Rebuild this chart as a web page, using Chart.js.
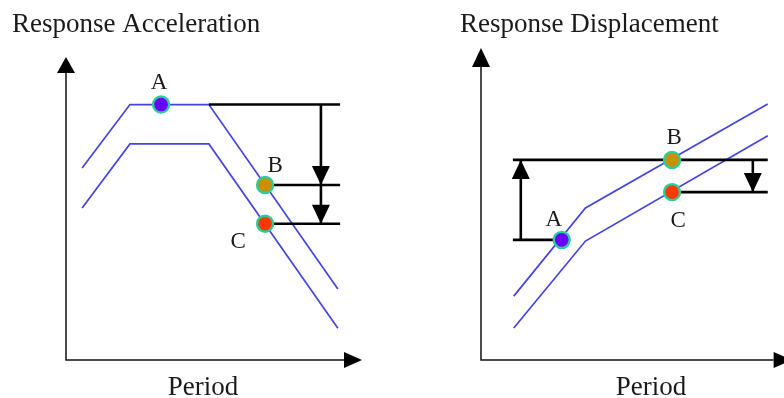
<!DOCTYPE html>
<html>
<head>
<meta charset="utf-8">
<script src="https://cdn.jsdelivr.net/npm/chart.js@4/dist/chart.umd.min.js"></script>
<style>
  html, body { margin: 0; padding: 0; background: #fff; }
  body { width: 784px; height: 398px; position: relative; overflow: hidden; }
  canvas { position: absolute; top: 0; }
  #acc { left: 0; }
  #disp { left: 392px; }
</style>
</head>
<body>
<canvas id="acc" width="392" height="398"></canvas>
<canvas id="disp" width="392" height="398"></canvas>
<script>
// ---------- Data: Response Acceleration (schematic units) ----------
const accPeriod      = [0.58, 2.30, 5.14, 9.78];
const accUpper       = [6.69, 8.90, 8.90, 2.47];
const accLower       = [5.30, 7.53, 7.53, 1.11];
const accPointLabels = ['A', 'B', 'C'];
const accPointPeriod = [3.42, 7.16, 7.16];
const accPointValue  = [8.90, 6.10, 4.75];
const accRefEnd      = 9.86;
const accArrowPeriod = 9.17;

// ---------- Data: Response Displacement (schematic units) ----------
const dispPeriod      = [1.12, 3.57, 9.80];
const dispUpper       = [2.18, 5.19, 8.74];
const dispLower       = [1.09, 4.06, 7.65];
const dispPointLabels = ['A', 'B', 'C'];
const dispPointPeriod = [2.76, 6.53, 6.53];
const dispPointValue  = [4.10, 6.83, 5.73];
const dispRefStart    = 1.09;
const dispRefEnd      = 9.80;
const dispArrowPeriods = [1.36, 9.29];

const SERIF = '"Liberation Serif", "Times New Roman", serif';
const BLUE = '#4444e2';
const TEAL = '#2ecc9a';
const POINT_FILLS = ['#6a00ff', '#c99100', '#ff3a00'];

function xy(xs, ys) { return xs.map((x, i) => ({ x: x, y: ys[i] })); }

function curve(xs, ys) {
  return { data: xy(xs, ys), borderColor: BLUE, borderWidth: 1.7, pointRadius: 0, fill: false, order: 3 };
}
function refLine(pts, isArrow) {
  return { data: pts, borderColor: '#000', borderWidth: 2.6, pointRadius: 0, fill: false, order: 2, arrow: !!isArrow };
}
function markers(xs, ys, labels) {
  return {
    data: xy(xs, ys), showLine: false, order: 0, labelsText: labels,
    pointRadius: 8, pointHoverRadius: 8, pointBorderWidth: 2.4,
    pointBackgroundColor: POINT_FILLS, pointBorderColor: TEAL, isMarkers: true
  };
}

function triangle(ctx, tx, ty, dx, dy, len, width) {
  const n = Math.hypot(dx, dy) || 1;
  const ux = dx / n, uy = dy / n;
  const bx = tx - ux * len, by = ty - uy * len;
  ctx.fillStyle = '#000';
  ctx.beginPath();
  ctx.moveTo(tx, ty);
  ctx.lineTo(bx - uy * width / 2, by + ux * width / 2);
  ctx.lineTo(bx + uy * width / 2, by - ux * width / 2);
  ctx.closePath();
  ctx.fill();
}

const diagramPlugin = {
  id: 'diagram',
  beforeDatasetsDraw(chart, args, o) {
    const { ctx, chartArea: a } = chart;
    ctx.save();
    ctx.strokeStyle = '#111';
    ctx.lineWidth = 1.5;
    ctx.beginPath();
    ctx.moveTo(a.left, a.top);
    ctx.lineTo(a.left, a.bottom);
    ctx.lineTo(a.right, a.bottom);
    ctx.stroke();
    triangle(ctx, a.left, a.top - o.yArrowLen, 0, -1, o.yArrowLen, 18);
    triangle(ctx, a.right + o.xArrowLen, a.bottom, 1, 0, o.xArrowLen, 16);
    ctx.restore();
  },
  afterDatasetsDraw(chart, args, o) {
    const { ctx } = chart;
    ctx.save();
    chart.data.datasets.forEach((ds, i) => {
      const meta = chart.getDatasetMeta(i);
      if (ds.arrow) {
        const p = meta.data;
        const a = p[p.length - 2], b = p[p.length - 1];
        triangle(ctx, b.x, b.y, b.x - a.x, b.y - a.y, 19, 18);
      }
      if (ds.isMarkers) {
        ctx.fillStyle = '#1a1a1a';
        ctx.font = '23px ' + SERIF;
        ctx.textAlign = 'center';
        ctx.textBaseline = 'alphabetic';
        meta.data.forEach((el, k) => {
          const off = o.labelOffsets[k];
          ctx.fillText(ds.labelsText[k], el.x + off[0], el.y + off[1]);
        });
      }
    });
    ctx.fillStyle = '#1a1a1a';
    ctx.font = '27px ' + SERIF;
    ctx.textAlign = 'left';
    ctx.textBaseline = 'alphabetic';
    ctx.fillText(o.title, o.titleX, o.titleY);
    ctx.textAlign = 'center';
    ctx.fillText(o.xLabel, o.xLabelX, o.xLabelY);
    ctx.restore();
  }
};

function makeChart(id, datasets, padding, opts) {
  return new Chart(document.getElementById(id), {
    type: 'line',
    data: { datasets: datasets },
    plugins: [diagramPlugin],
    options: {
      responsive: false,
      animation: false,
      events: [],
      layout: { padding: padding },
      scales: {
        x: { type: 'linear', min: 0, max: 10, display: false },
        y: { type: 'linear', min: 0, max: 10, display: false }
      },
      plugins: { legend: { display: false }, tooltip: { enabled: false }, diagram: opts }
    }
  });
}

// ---- Left panel ----
makeChart('acc', [
  markers(accPointPeriod, accPointValue, accPointLabels),
  refLine([{ x: accPeriod[2], y: accPointValue[0] }, { x: accRefEnd, y: accPointValue[0] }]),
  refLine([{ x: accPointPeriod[1], y: accPointValue[1] }, { x: accRefEnd, y: accPointValue[1] }]),
  refLine([{ x: accPointPeriod[2], y: accPointValue[2] }, { x: accRefEnd, y: accPointValue[2] }]),
  refLine([{ x: accArrowPeriod, y: accPointValue[0] }, { x: accArrowPeriod, y: accPointValue[1] }], true),
  refLine([{ x: accArrowPeriod, y: accPointValue[1] }, { x: accArrowPeriod, y: accPointValue[2] }], true),
  curve(accPeriod, accUpper),
  curve(accPeriod, accLower)
], { left: 66, right: 48, top: 73, bottom: 38 }, {
  title: 'Response Acceleration', titleX: 12, titleY: 32,
  xLabel: 'Period', xLabelX: 203, xLabelY: 395,
  yArrowLen: 16, xArrowLen: 18,
  labelOffsets: [[-2, -16], [10, -13], [-27, 24]]
});

// ---- Right panel ----
makeChart('disp', [
  markers(dispPointPeriod, dispPointValue, dispPointLabels),
  refLine([{ x: dispRefStart, y: dispPointValue[1] }, { x: dispRefEnd, y: dispPointValue[1] }]),
  refLine([{ x: dispRefStart, y: dispPointValue[0] }, { x: dispPointPeriod[0], y: dispPointValue[0] }]),
  refLine([{ x: dispPointPeriod[2], y: dispPointValue[2] }, { x: dispRefEnd, y: dispPointValue[2] }]),
  refLine([{ x: dispArrowPeriods[0], y: dispPointValue[0] }, { x: dispArrowPeriods[0], y: dispPointValue[1] }], true),
  refLine([{ x: dispArrowPeriods[1], y: dispPointValue[1] }, { x: dispArrowPeriods[1], y: dispPointValue[2] }], true),
  curve(dispPeriod, dispUpper),
  curve(dispPeriod, dispLower)
], { left: 89, right: 9, top: 67, bottom: 38 }, {
  title: 'Response Displacement', titleX: 68, titleY: 32,
  xLabel: 'Period', xLabelX: 259, xLabelY: 395,
  yArrowLen: 19, xArrowLen: 18,
  labelOffsets: [[-8, -14], [2, -16], [6, 35]]
});
</script>
</body>
</html>
